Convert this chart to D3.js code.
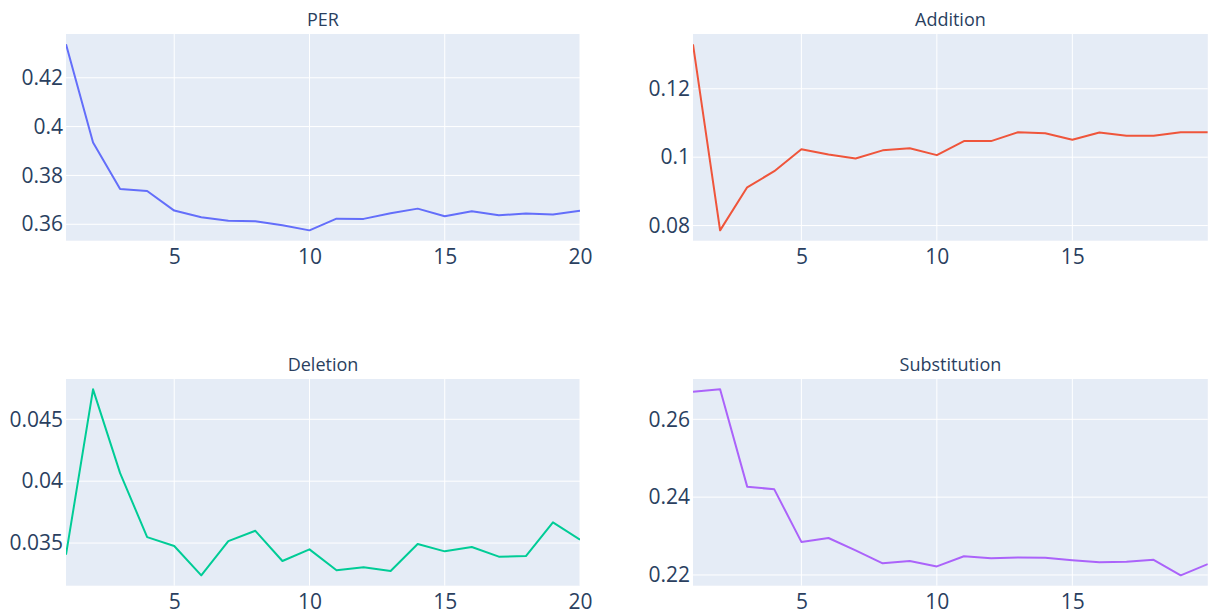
<!DOCTYPE html>
<html>
<head>
<meta charset="utf-8">
<script src="https://cdn.jsdelivr.net/npm/d3@7"></script>
<style>
  html, body { margin: 0; padding: 0; background: #fff; }
  svg { display: block; }
  text { font-family: "Open Sans", verdana, arial, sans-serif; fill: #2a3f5f; }
</style>
</head>
<body>
<svg id="chart" width="1208" height="612"></svg>
<script>
// ---- data ----
const epochs = [1,2,3,4,5,6,7,8,9,10,11,12,13,14,15,16,17,18,19,20];

const perValues = [0.4337,0.3935,0.3744,0.3736,0.3656,0.3629,0.3614,0.3612,0.3596,0.3575,
                   0.3623,0.3622,0.3645,0.3664,0.3633,0.3653,0.3637,0.3644,0.3640,0.3655];
const additionValues = [0.1330,0.0786,0.0912,0.0959,0.1023,0.1008,0.0996,0.1020,0.1026,0.1006,
                        0.1047,0.1047,0.1073,0.1070,0.1051,0.1072,0.1063,0.1063,0.1073,0.1073];
const deletionValues = [0.03406,0.04742,0.04065,0.03548,0.03476,0.03239,0.03516,0.03599,0.03355,0.03449,
                        0.03280,0.03304,0.03274,0.03492,0.03433,0.03468,0.03390,0.03395,0.03667,0.03527];
const substitutionValues = [0.2671,0.2677,0.2427,0.2420,0.2285,0.2295,0.2263,0.2230,0.2236,0.2222,
                            0.2248,0.2243,0.2245,0.2244,0.2238,0.2233,0.2234,0.2239,0.2199,0.2228];

const titles = ["PER", "Addition", "Deletion", "Substitution"];
const seriesList = [perValues, additionValues, deletionValues, substitutionValues];
const colors = ["#636efa", "#EF553B", "#00cc96", "#ab63fa"];

const perTicks = [0.36, 0.38, 0.4, 0.42];
const additionTicks = [0.08, 0.1, 0.12];
const deletionTicks = [0.035, 0.04, 0.045];
const substitutionTicks = [0.22, 0.24, 0.26];
const yTicksList = [perTicks, additionTicks, deletionTicks, substitutionTicks];

const xTicksLeft = [5, 10, 15, 20];
const xTicksRight = [5, 10, 15];

// ---- layout ----
const panels = [
  {x0: 66,  x1: 580,    y0: 34,  y1: 240.7, xticks: xTicksLeft},
  {x0: 693, x1: 1207.8, y0: 34,  y1: 240.7, xticks: xTicksRight},
  {x0: 66,  x1: 580,    y0: 379, y1: 585.7, xticks: xTicksLeft},
  {x0: 693, x1: 1207.8, y0: 379, y1: 585.7, xticks: xTicksRight}
];

const svg = d3.select("#chart");

panels.forEach((p, i) => {
  const values = seriesList[i];
  const ext = d3.extent(values);
  const pad = (ext[1] - ext[0]) * 0.05 / 0.9;
  const x = d3.scaleLinear().domain([1, 20]).range([p.x0, p.x1]);
  const y = d3.scaleLinear().domain([ext[0] - pad, ext[1] + pad]).range([p.y1, p.y0]);

  const g = svg.append("g");

  // background
  g.append("rect")
    .attr("x", p.x0).attr("y", p.y0)
    .attr("width", p.x1 - p.x0).attr("height", p.y1 - p.y0)
    .attr("fill", "#E5ECF6");

  // grid lines
  g.selectAll(".xg").data(p.xticks).enter().append("line")
    .attr("x1", d => x(d)).attr("x2", d => x(d))
    .attr("y1", p.y0).attr("y2", p.y1)
    .attr("stroke", "#fff").attr("stroke-width", 1);
  g.selectAll(".yg").data(yTicksList[i]).enter().append("line")
    .attr("x1", p.x0).attr("x2", p.x1)
    .attr("y1", d => y(d)).attr("y2", d => y(d))
    .attr("stroke", "#fff").attr("stroke-width", 1);

  // axes (labels only)
  const xAxis = d3.axisBottom(x).tickValues(p.xticks).tickSize(0).tickPadding(8)
    .tickFormat(d3.format("d"));
  const xg = g.append("g").attr("transform", `translate(0,${p.y1})`).call(xAxis);
  xg.select(".domain").remove();
  xg.selectAll("text").attr("font-size", 21).style("font-family", '"Open Sans", sans-serif').attr("fill", "#2a3f5f");

  const yAxis = d3.axisLeft(y).tickValues(yTicksList[i]).tickSize(0).tickPadding(3)
    .tickFormat(d3.format("~g"));
  const yg = g.append("g").attr("transform", `translate(${p.x0},0)`).call(yAxis);
  yg.select(".domain").remove();
  yg.selectAll("text").attr("font-size", 21).style("font-family", '"Open Sans", sans-serif').attr("fill", "#2a3f5f");

  // clip
  const clipId = "clip" + i;
  svg.append("clipPath").attr("id", clipId).append("rect")
    .attr("x", p.x0).attr("y", p.y0)
    .attr("width", p.x1 - p.x0).attr("height", p.y1 - p.y0);

  const line = d3.line().x((d, j) => x(epochs[j])).y(d => y(d));
  g.append("path")
    .datum(values)
    .attr("d", line)
    .attr("fill", "none")
    .attr("stroke", colors[i])
    .attr("stroke-width", 2)
    .attr("stroke-linejoin", "round")
    .attr("clip-path", `url(#${clipId})`);

  // title
  g.append("text")
    .attr("x", (p.x0 + p.x1) / 2)
    .attr("y", p.y0 - 8)
    .attr("text-anchor", "middle")
    .attr("font-size", 18)
    .text(titles[i]);
});
</script>
</body>
</html>
